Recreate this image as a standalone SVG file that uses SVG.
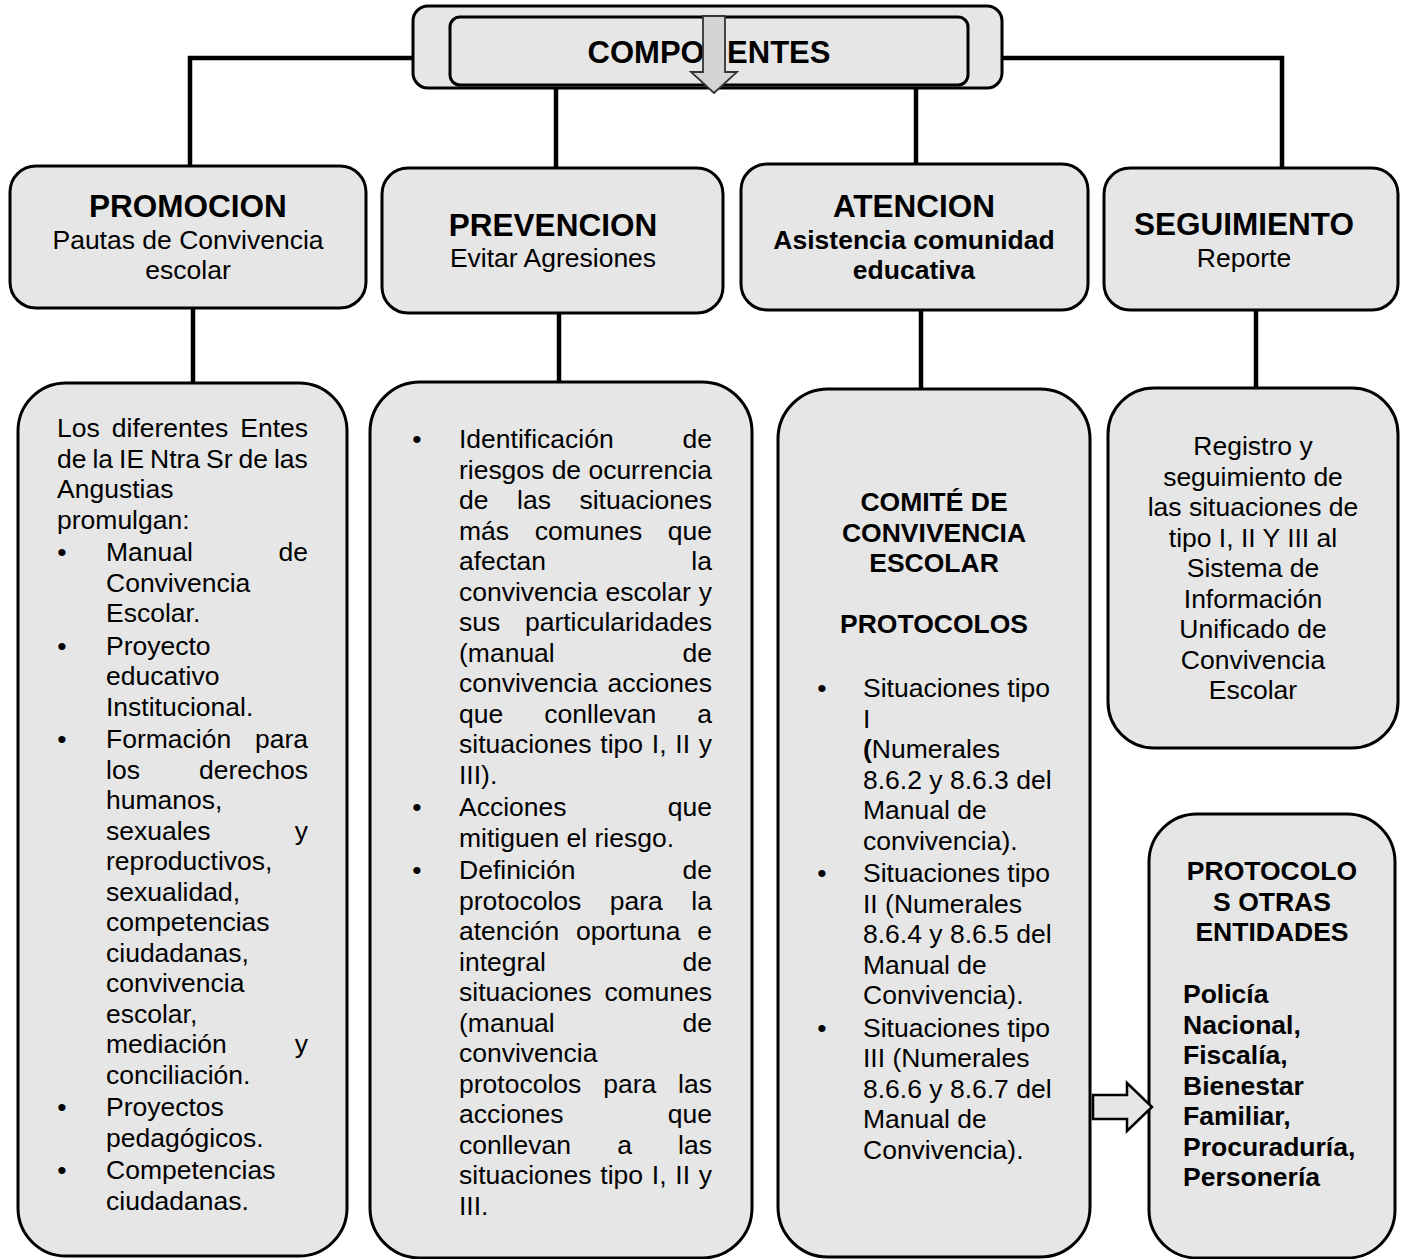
<svg xmlns="http://www.w3.org/2000/svg" width="1401" height="1259" viewBox="0 0 1401 1259">
<style>
.box{fill:#e6e6e6;stroke:#000;stroke-width:3}
.conn{fill:none;stroke:#000;stroke-width:4.5}
.arr{fill:#e6e6e6;stroke:#000;stroke-width:2.5;stroke-linejoin:miter}
.darr{fill:#d4d4d4;stroke:#333;stroke-width:1.8}
text{font-family:"Liberation Sans",Arial,sans-serif;font-size:26.5px;fill:#000}
.b{font-weight:bold}
.ti{font-weight:bold;font-size:31.5px}
.c{text-anchor:middle}
.r{text-anchor:end}
</style>
<rect width="1401" height="1259" fill="#fff"/>

<g id="componentes">
<rect class="box" x="413" y="6" width="589" height="82" rx="15"/>
<rect class="box" x="450" y="17" width="518" height="68" rx="10"/>
<text class="b c" x="709" y="63" style="font-size:31px">COMPONENTES</text>
</g>

<g id="promocion">
<rect class="box" x="10" y="166" width="356" height="142" rx="26"/>
<text class="ti c" x="188" y="217">PROMOCION</text>
<text class="c" x="188" y="249">Pautas de Convivencia</text>
<text class="c" x="188" y="279">escolar</text>
</g>

<g id="prevencion">
<rect class="box" x="382" y="168" width="341" height="145" rx="26"/>
<text class="ti c" x="553" y="236">PREVENCION</text>
<text class="c" x="553" y="267">Evitar Agresiones</text>
</g>

<g id="atencion">
<rect class="box" x="741" y="164" width="347" height="146" rx="26"/>
<text class="ti c" x="914" y="217">ATENCION</text>
<text class="b c" x="914" y="249">Asistencia comunidad</text>
<text class="b c" x="914" y="278.5">educativa</text>
</g>

<g id="seguimiento">
<rect class="box" x="1104" y="168" width="294" height="142" rx="26"/>
<text class="ti c" x="1244" y="235">SEGUIMIENTO</text>
<text class="c" x="1244" y="267">Reporte</text>
</g>

<g id="promocion-detalle">
<rect class="box" x="18" y="383" width="329" height="873" rx="48"/>
<text x="57" y="437" word-spacing="4.7">Los diferentes Entes</text>
<text x="57" y="467.5" word-spacing="-1.4">de la IE Ntra Sr de las</text>
<text x="57" y="498">Angustias</text>
<text x="57" y="528.5">promulgan:</text>
<text class="c" x="62" y="561">•</text>
<text x="106" y="561">Manual</text><text class="r" x="308" y="561">de</text>
<text x="106" y="591.5">Convivencia</text>
<text x="106" y="622">Escolar.</text>
<text class="c" x="62" y="654.5">•</text>
<text x="106" y="654.5">Proyecto</text>
<text x="106" y="685">educativo</text>
<text x="106" y="715.5">Institucional.</text>
<text class="c" x="62" y="748">•</text>
<text x="106" y="748">Formación</text><text class="r" x="308" y="748">para</text>
<text x="106" y="778.5">los</text><text class="r" x="308" y="778.5">derechos</text>
<text x="106" y="809">humanos,</text>
<text x="106" y="839.5">sexuales</text><text class="r" x="308" y="839.5">y</text>
<text x="106" y="870">reproductivos,</text>
<text x="106" y="900.5">sexualidad,</text>
<text x="106" y="931">competencias</text>
<text x="106" y="961.5">ciudadanas,</text>
<text x="106" y="992">convivencia</text>
<text x="106" y="1022.5">escolar,</text>
<text x="106" y="1053">mediación</text><text class="r" x="308" y="1053">y</text>
<text x="106" y="1083.5">conciliación.</text>
<text class="c" x="62" y="1116">•</text>
<text x="106" y="1116">Proyectos</text>
<text x="106" y="1146.5">pedagógicos.</text>
<text class="c" x="62" y="1179">•</text>
<text x="106" y="1179">Competencias</text>
<text x="106" y="1209.5">ciudadanas.</text>
</g>

<g id="prevencion-detalle">
<rect class="box" x="370" y="382" width="382" height="876" rx="50"/>
<text class="c" x="417" y="448">•</text>
<text x="459" y="448">Identificación</text><text class="r" x="712" y="448">de</text>
<text x="459" y="478.5" textLength="253" lengthAdjust="spacing">riesgos de ocurrencia</text>
<text x="459" y="509">de</text><text x="517" y="509">las</text><text class="r" x="712" y="509">situaciones</text>
<text x="459" y="539.5">más</text><text x="534.7" y="539.5">comunes</text><text class="r" x="712" y="539.5">que</text>
<text x="459" y="570">afectan</text><text class="r" x="712" y="570">la</text>
<text x="459" y="600.5">convivencia</text><text x="605.4" y="600.5">escolar</text><text class="r" x="712" y="600.5">y</text>
<text x="459" y="631">sus</text><text class="r" x="712" y="631">particularidades</text>
<text x="459" y="661.5">(manual</text><text class="r" x="712" y="661.5">de</text>
<text x="459" y="692">convivencia</text><text class="r" x="712" y="692">acciones</text>
<text x="459" y="722.5">que</text><text x="544.3" y="722.5">conllevan</text><text class="r" x="712" y="722.5">a</text>
<text x="459" y="753" word-spacing="1.4">situaciones tipo I, II y</text>
<text x="459" y="783.5">III).</text>
<text class="c" x="417" y="816">•</text>
<text x="459" y="816">Acciones</text><text class="r" x="712" y="816">que</text>
<text x="459" y="846.5">mitiguen el riesgo.</text>
<text class="c" x="417" y="879">•</text>
<text x="459" y="879">Definición</text><text class="r" x="712" y="879">de</text>
<text x="459" y="909.5">protocolos</text><text x="609.8" y="909.5">para</text><text class="r" x="712" y="909.5">la</text>
<text x="459" y="940">atención</text><text x="575.9" y="940">oportuna</text><text class="r" x="712" y="940">e</text>
<text x="459" y="970.5">integral</text><text class="r" x="712" y="970.5">de</text>
<text x="459" y="1001">situaciones</text><text class="r" x="712" y="1001">comunes</text>
<text x="459" y="1031.5">(manual</text><text class="r" x="712" y="1031.5">de</text>
<text x="459" y="1062">convivencia</text>
<text x="459" y="1092.5">protocolos</text><text x="603.2" y="1092.5">para</text><text class="r" x="712" y="1092.5">las</text>
<text x="459" y="1123">acciones</text><text class="r" x="712" y="1123">que</text>
<text x="459" y="1153.5">conllevan</text><text x="617.2" y="1153.5">a</text><text class="r" x="712" y="1153.5">las</text>
<text x="459" y="1184" word-spacing="1.4">situaciones tipo I, II y</text>
<text x="459" y="1214.5">III.</text>
</g>

<g id="atencion-detalle">
<rect class="box" x="778" y="389" width="312" height="868" rx="50"/>
<text class="b c" x="934" y="511">COMITÉ DE</text>
<text class="b c" x="934" y="541.5">CONVIVENCIA</text>
<text class="b c" x="934" y="572">ESCOLAR</text>
<text class="b c" x="934" y="633">PROTOCOLOS</text>
<text class="c" x="822" y="697">•</text>
<text x="863" y="697">Situaciones tipo</text>
<text x="863" y="727.5">I</text>
<text x="863" y="758"><tspan class="b">(</tspan>Numerales</text>
<text x="863" y="788.5">8.6.2 y 8.6.3 del</text>
<text x="863" y="819">Manual de</text>
<text x="863" y="849.5">convivencia).</text>
<text class="c" x="822" y="882">•</text>
<text x="863" y="882">Situaciones tipo</text>
<text x="863" y="912.5">II (Numerales</text>
<text x="863" y="943">8.6.4 y 8.6.5 del</text>
<text x="863" y="973.5">Manual de</text>
<text x="863" y="1004">Convivencia).</text>
<text class="c" x="822" y="1036.5">•</text>
<text x="863" y="1036.5">Situaciones tipo</text>
<text x="863" y="1067">III (Numerales</text>
<text x="863" y="1097.5">8.6.6 y 8.6.7 del</text>
<text x="863" y="1128">Manual de</text>
<text x="863" y="1158.5">Convivencia).</text>
</g>

<g id="seguimiento-detalle">
<rect class="box" x="1108" y="388" width="290" height="360" rx="46"/>
<text class="c" x="1253" y="455">Registro y</text>
<text class="c" x="1253" y="485.5">seguimiento de</text>
<text class="c" x="1253" y="516">las situaciones de</text>
<text class="c" x="1253" y="546.5">tipo I, II Y III al</text>
<text class="c" x="1253" y="577">Sistema de</text>
<text class="c" x="1253" y="607.5">Información</text>
<text class="c" x="1253" y="638">Unificado de</text>
<text class="c" x="1253" y="668.5">Convivencia</text>
<text class="c" x="1253" y="699">Escolar</text>
</g>

<g id="otras-entidades">
<rect class="box" x="1149" y="814" width="246" height="444" rx="48"/>
<text class="b c" x="1272" y="880">PROTOCOLO</text>
<text class="b c" x="1272" y="910.5">S OTRAS</text>
<text class="b c" x="1272" y="941">ENTIDADES</text>
<text class="b" x="1183" y="1003">Policía</text>
<text class="b" x="1183" y="1033.5">Nacional,</text>
<text class="b" x="1183" y="1064">Fiscalía,</text>
<text class="b" x="1183" y="1094.5">Bienestar</text>
<text class="b" x="1183" y="1125">Familiar,</text>
<text class="b" x="1183" y="1155.5">Procuraduría,</text>
<text class="b" x="1183" y="1186">Personería</text>
</g>

<g id="connectors">
<path class="conn" d="M413,58 H190 V166"/>
<path class="conn" d="M1002,58 H1282 V168"/>
<path class="conn" d="M556,88 V168"/>
<path class="conn" d="M916,88 V164"/>
<path class="conn" d="M193,308 V383"/>
<path class="conn" d="M559,313 V382"/>
<path class="conn" d="M921,310 V389"/>
<path class="conn" d="M1256,310 V388"/>
<polygon class="darr" points="703,16 725,16 725,72 737,72 714,93 691,72 703,72"/>
<polygon class="arr" points="1093,1095 1127,1095 1127,1083 1152,1107 1127,1131 1127,1119 1093,1119"/>
</g>
</svg>
